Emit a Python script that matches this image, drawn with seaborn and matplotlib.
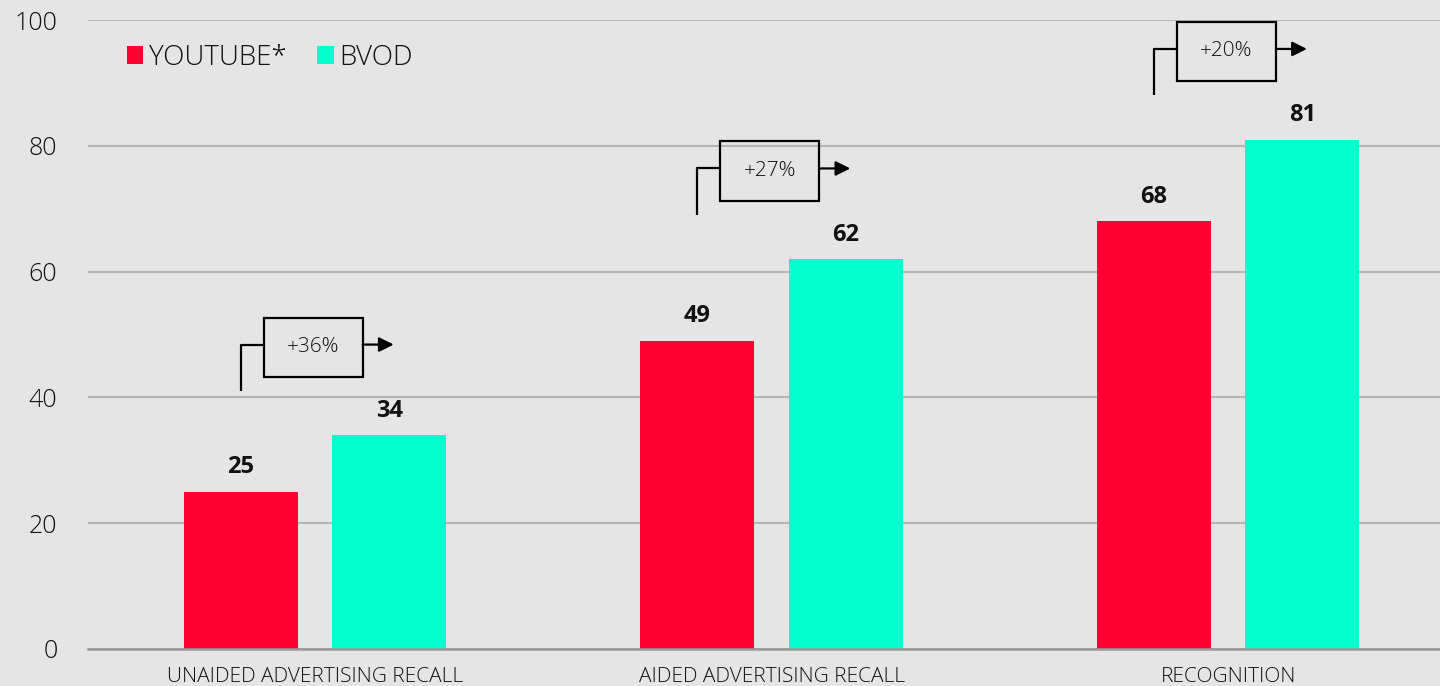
import pandas as pd
import matplotlib.pyplot as plt
import seaborn as sns
from matplotlib.patches import Patch, Rectangle

CATEGORIES = ["UNAIDED ADVERTISING RECALL", "AIDED ADVERTISING RECALL", "RECOGNITION"]
YOUTUBE = [25, 49, 68]
BVOD = [34, 62, 81]
UPLIFT = ["+36%", "+27%", "+20%"]
SERIES = ["YOUTUBE*", "BVOD"]
COLORS = {"YOUTUBE*": "#ff0033", "BVOD": "#00ffcc"}
BG = "#e5e5e5"

df = pd.DataFrame({
    "category": CATEGORIES * 2,
    "series": [SERIES[0]] * 3 + [SERIES[1]] * 3,
    "value": YOUTUBE + BVOD,
})

sns.set_style("whitegrid")
plt.rcParams["font.family"] = ["Open Sans", "DejaVu Sans"]

fig = plt.figure(figsize=(14.4, 6.86), dpi=100, facecolor=BG)
ax = fig.add_axes([88 / 1440, 1 - 649 / 686, 1 - 88 / 1440, 629 / 686])
ax.set_facecolor(BG)

sns.barplot(data=df, x="category", y="value", hue="series", palette=COLORS,
            width=0.65, gap=0.23, saturation=1, linewidth=0, ax=ax, legend=False)

ax.set_ylim(0, 100)
ax.set_xlim(-0.497, 2.464)
ax.set_yticks(range(0, 101, 20))
ax.grid(axis="y", color="#b5b5b5", linewidth=1.5)
ax.grid(axis="x", visible=False)
ax.set_axisbelow(True)
for s in ["top", "right", "left"]:
    ax.spines[s].set_visible(False)
ax.spines["bottom"].set_color("#999999")
ax.spines["bottom"].set_linewidth(1.8)
ax.set_xlabel("")
ax.set_ylabel("")
ax.tick_params(axis="y", length=0, pad=22, labelsize=18, labelcolor="#111111")
ax.tick_params(axis="x", length=0, pad=13, labelsize=15, labelcolor="#111111")
for t in ax.get_yticklabels() + ax.get_xticklabels():
    t.set_fontweight("light")

# value labels
for cont in ax.containers:
    ax.bar_label(cont, labels=[f"{v:.0f}" for v in cont.datavalues],
                 padding=9, fontsize=17, fontweight="bold", color="#111111")

# uplift boxes
off = 0.1625
bw, bh = 0.217, 9.4
for i, (y, b, lab) in enumerate(zip(YOUTUBE, BVOD, UPLIFT)):
    cy = b + 14
    ly = cy + 0.4
    x0 = i - off
    left = i - 0.004 - bw / 2
    right = left + bw
    ax.plot([x0, x0, left], [b + 7, ly, ly], color="black",
            lw=1.6, solid_capstyle="butt", zorder=5)
    ax.add_patch(Rectangle((left, cy - bh / 2), bw, bh, facecolor="none",
                           edgecolor="black", lw=1.6, zorder=5))
    ax.text(left + bw / 2, cy, lab, ha="center", va="center", fontsize=15,
            fontweight="light", color="#111111", zorder=6)
    ax.annotate("", xy=(right + 0.068, ly), xytext=(right, ly),
                arrowprops=dict(arrowstyle="-|>", color="black", lw=1.6,
                                mutation_scale=22, shrinkA=0, shrinkB=0),
                zorder=6)

handles = [Patch(facecolor=COLORS[s], edgecolor="none") for s in SERIES]
leg = ax.legend(handles, SERIES, loc="center left", bbox_to_anchor=(0.01, 0.94),
                frameon=False, ncol=2, handlelength=0.6, handleheight=0.6,
                handletextpad=0.2, columnspacing=1.1, fontsize=20)
for t in leg.get_texts():
    t.set_fontweight("light")
    t.set_color("#111111")

fig.savefig("out.png", dpi=100, facecolor=BG)
